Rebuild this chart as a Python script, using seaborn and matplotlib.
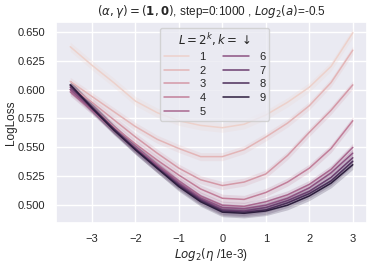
import numpy as np
import pandas as pd
import matplotlib
matplotlib.use("Agg")
import matplotlib.pyplot as plt
import seaborn as sns

# x positions: log2(eta / 1e-3)
log2_eta = [-3.5, -3.0, -2.5, -2.0, -1.5, -1.0, -0.5, 0.0, 0.5, 1.0, 1.5, 2.0, 2.5, 3.0]

k1 = [0.637, 0.621, 0.606, 0.590, 0.580, 0.573, 0.569, 0.567, 0.570, 0.578, 0.589, 0.602, 0.620, 0.649]
k2 = [0.607, 0.594, 0.581, 0.568, 0.557, 0.549, 0.542, 0.542, 0.548, 0.559, 0.571, 0.586, 0.606, 0.634]
k3 = [0.603, 0.589, 0.574, 0.559, 0.545, 0.532, 0.522, 0.517, 0.520, 0.527, 0.543, 0.563, 0.582, 0.604]
k4 = [0.600, 0.585, 0.568, 0.553, 0.539, 0.526, 0.514, 0.506, 0.505, 0.511, 0.520, 0.532, 0.549, 0.573]
k5 = [0.598, 0.582, 0.565, 0.550, 0.535, 0.521, 0.508, 0.500, 0.499, 0.503, 0.509, 0.518, 0.531, 0.550]
k6 = [0.600, 0.583, 0.566, 0.549, 0.534, 0.519, 0.506, 0.498, 0.497, 0.500, 0.506, 0.515, 0.528, 0.545]
k7 = [0.602, 0.584, 0.566, 0.549, 0.533, 0.518, 0.505, 0.496, 0.495, 0.498, 0.504, 0.512, 0.524, 0.541]
k8 = [0.604, 0.585, 0.566, 0.548, 0.532, 0.517, 0.504, 0.495, 0.494, 0.496, 0.502, 0.510, 0.521, 0.538]
k9 = [0.604, 0.584, 0.565, 0.548, 0.532, 0.516, 0.503, 0.494, 0.493, 0.495, 0.500, 0.508, 0.519, 0.535]

k_values = [1, 2, 3, 4, 5, 6, 7, 8, 9]
series = [k1, k2, k3, k4, k5, k6, k7, k8, k9]
band_halfwidth = [0.004, 0.0035, 0.0035, 0.0035, 0.0035, 0.0035, 0.004, 0.004, 0.004]

rows = []
for k, vals in zip(k_values, series):
    for x, v in zip(log2_eta, vals):
        rows.append({"x": x, "loss": v, "k": k})
df = pd.DataFrame(rows)

sns.set_theme(style="darkgrid")
plt.rcParams["font.family"] = ["Liberation Sans", "DejaVu Sans"]

fig, ax = plt.subplots(figsize=(3.74, 2.65), dpi=100)
fig.subplots_adjust(left=0.150, right=0.981, top=0.917, bottom=0.158)

cmap = sns.cubehelix_palette(as_cmap=True)
sns.lineplot(data=df, x="x", y="loss", hue="k", palette=cmap, legend="full",
             errorbar=None, linewidth=1.1, ax=ax)

norm = matplotlib.colors.Normalize(vmin=min(k_values), vmax=max(k_values))
for k, vals, hw in zip(k_values, series, band_halfwidth):
    v = np.array(vals)
    ax.fill_between(log2_eta, v - hw, v + hw, color=cmap(norm(k)), alpha=0.2, linewidth=0)

ax.set_yticks([0.500, 0.525, 0.550, 0.575, 0.600, 0.625, 0.650])
ax.set_yticklabels(["0.500", "0.525", "0.550", "0.575", "0.600", "0.625", "0.650"])
ax.set_xticks([-3, -2, -1, 0, 1, 2, 3])
ax.set_xticklabels(["\u22123", "\u22122", "\u22121", "0", "1", "2", "3"])
ax.tick_params(axis="both", labelsize=8, pad=2)
ax.set_ylim(0.4845, 0.6584)

ax.set_xlabel(r"$Log_2(\eta$ /1e-3)", fontsize=8.5, labelpad=1)
ax.set_ylabel("LogLoss", fontsize=8.5)
ax.yaxis.set_label_coords(-0.125, 0.5)
ax.set_title(r"$(\alpha, \gamma) = (\mathbf{1}, \mathbf{0})$, step=0:1000 , $Log_2(a)$=-0.5",
             fontsize=8.5, pad=5)

sns.move_legend(ax, "upper center", ncol=2, title=r"$L=2^k, k=\downarrow$",
                fontsize=8, title_fontsize=8.5, frameon=True,
                bbox_to_anchor=(0.51, 1.0), columnspacing=1.6, handlelength=2.3,
                labelspacing=0.33, borderpad=0.35, handletextpad=0.9)

fig.savefig("out.png", dpi=100)
